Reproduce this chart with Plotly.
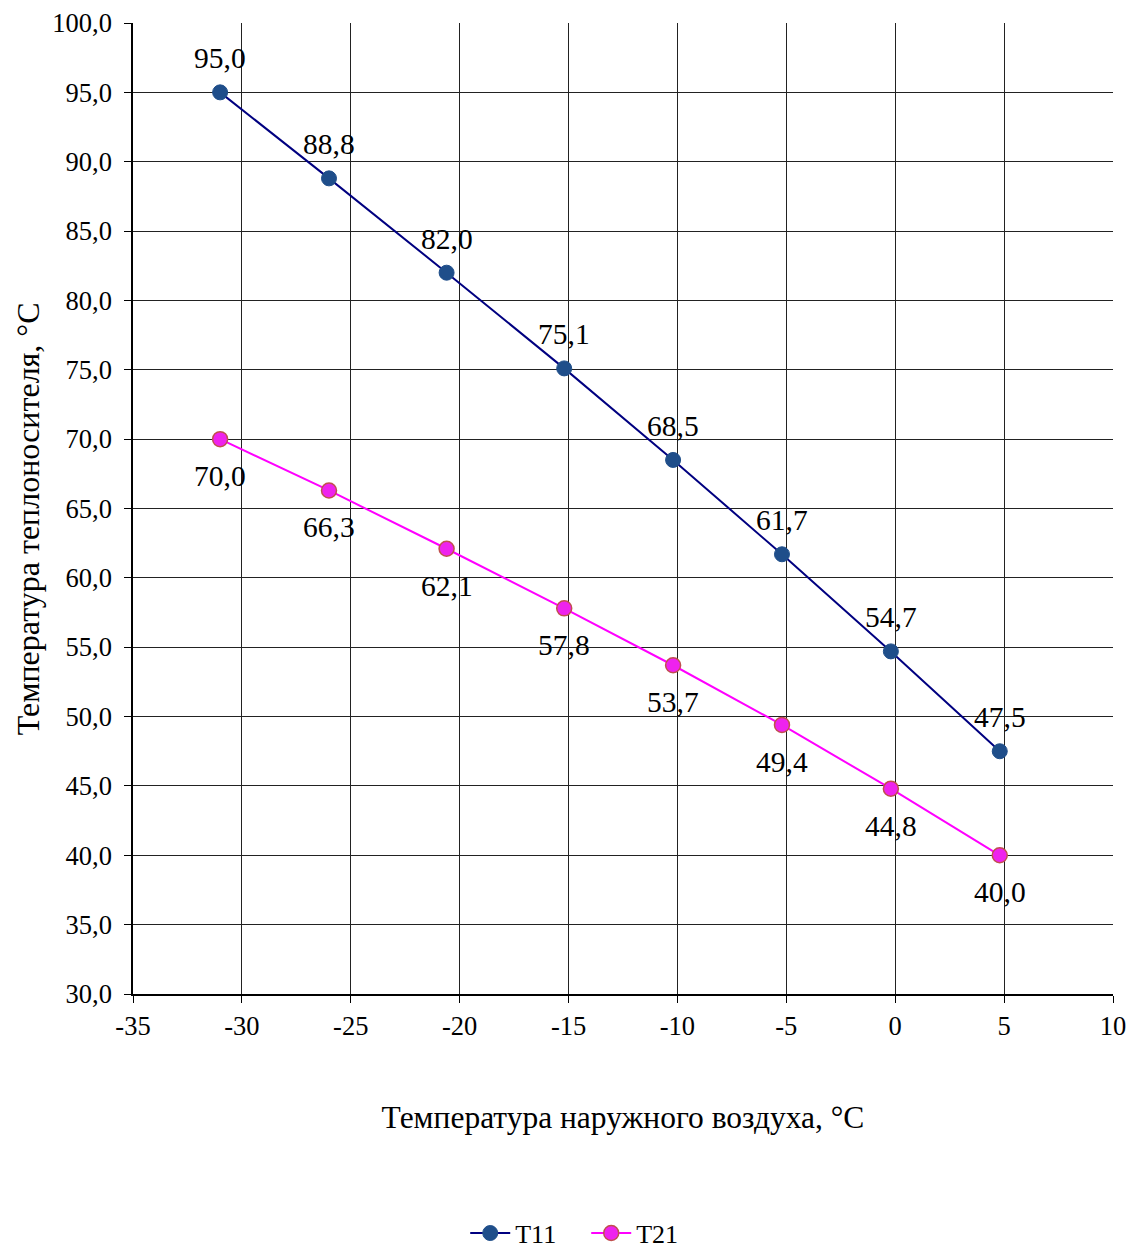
import plotly.graph_objects as go

# Outdoor air temperature, °C
outdoor_temp = [-31, -26, -20.6, -15.2, -10.2, -5.2, -0.2, 4.8]
# Supply (T11) and return (T21) heat-carrier temperatures, °C
t11 = [95.0, 88.8, 82.0, 75.1, 68.5, 61.7, 54.7, 47.5]
t21 = [70.0, 66.3, 62.1, 57.8, 53.7, 49.4, 44.8, 40.0]

x_ticks = [-35, -30, -25, -20, -15, -10, -5, 0, 5, 10]
y_ticks = [30 + 5 * i for i in range(15)]

FONT = "Liberation Serif, Times New Roman, serif"


def fmt(v):
    return f"{v:.1f}".replace(".", ",")


fig = go.Figure()

fig.add_trace(go.Scatter(
    x=outdoor_temp, y=t11, name="T11",
    mode="lines+markers",
    line=dict(color="#000080", width=2),
    marker=dict(size=15, color="#1F4E8A", line=dict(color="#1F4E8A", width=1)),
))

fig.add_trace(go.Scatter(
    x=outdoor_temp, y=t21, name="T21",
    mode="lines+markers",
    line=dict(color="#FF00FF", width=2),
    marker=dict(size=15, color="#EE22EE", line=dict(color="#C0504D", width=1.5)),
))

# Value labels: supply above the points, return below
label_font = dict(family=FONT, size=29.5, color="black")
for xv, yv in zip(outdoor_temp, t11):
    fig.add_annotation(x=xv, y=yv, text=fmt(yv), showarrow=False,
                       yshift=34, font=label_font)
for xv, yv in zip(outdoor_temp, t21):
    fig.add_annotation(x=xv, y=yv, text=fmt(yv), showarrow=False,
                       yshift=-37, font=label_font)

axis_common = dict(
    showgrid=True, gridcolor="#222222", gridwidth=1,
    showline=True, linecolor="black", linewidth=1.5,
    ticks="outside", ticklen=7, tickcolor="black", tickwidth=1,
    zeroline=False, automargin=False,
    tickfont=dict(family=FONT, size=26.5, color="black"),
)

fig.update_xaxes(
    range=[-35, 10], tickvals=x_ticks, ticktext=[str(v) for v in x_ticks],
    title=dict(text="Температура наружного воздуха, °C",
               font=dict(family=FONT, size=31.5, color="black"), standoff=66),
    **axis_common,
)
fig.update_yaxes(
    range=[30, 100], tickvals=y_ticks, ticktext=[fmt(v) for v in y_ticks],
    ticklabelstandoff=7,
    **axis_common,
)

# Vertical axis title
fig.add_annotation(
    text="Температура теплоносителя, °C",
    xref="paper", yref="paper", x=-0.107, y=0.489,
    xanchor="center", yanchor="middle", textangle=-90, showarrow=False,
    font=dict(family=FONT, size=32, color="black"),
)

fig.update_layout(
    width=1129, height=1250,
    margin=dict(l=133, r=16, t=23, b=256, autoexpand=False),
    plot_bgcolor="white", paper_bgcolor="white",
    font=dict(family=FONT, color="black"),
    showlegend=True,
    legend=dict(
        orientation="h", x=0.339, xanchor="left",
        yref="container", y=0.0135, yanchor="middle",
        entrywidth=66, itemwidth=40,
        font=dict(family=FONT, size=26, color="black"),
    ),
)

fig.write_html("out.html")
